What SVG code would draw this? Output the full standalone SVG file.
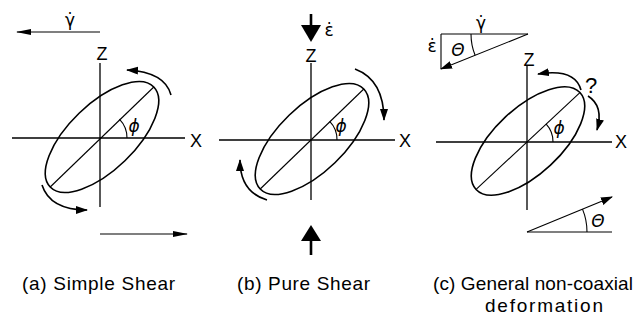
<svg xmlns="http://www.w3.org/2000/svg" width="636" height="320" viewBox="0 0 636 320">
<style>
.ax{stroke:#000;stroke-width:1.3;fill:none}
.el{stroke:#000;stroke-width:1.6;fill:none}
.ln{stroke:#000;stroke-width:1.1;fill:none}
.rot{stroke:#000;stroke-width:1.6;fill:none}
.lbl{font-family:"Liberation Sans",Arial,sans-serif;font-size:18px;fill:#000;text-anchor:middle}
.gr{font-family:"DejaVu Sans",sans-serif;font-size:17px;fill:#000;text-anchor:middle}
.it{font-family:"DejaVu Sans",sans-serif;font-style:italic;font-size:17px;fill:#000;text-anchor:middle}
.cap{font-family:"Liberation Sans",Arial,sans-serif;font-size:19px;fill:#000}
</style>
<defs>
<marker id="ah" markerUnits="userSpaceOnUse" markerWidth="14" markerHeight="10" refX="11" refY="4" orient="auto"><path d="M0,0 L12,4 L0,8 z" fill="#000"/></marker>
<marker id="ahs" markerUnits="userSpaceOnUse" markerWidth="16" markerHeight="8" refX="14" refY="3" orient="auto"><path d="M0,0 L15,3 L0,6 z" fill="#000"/></marker>
</defs>

<g id="panel-a">
  <path class="ax" d="M100,63 V207 M12,138 H185"/>
  <ellipse class="el" cx="102" cy="137" rx="72" ry="33" transform="rotate(-44 102 137)"/>
  <path class="ln" d="M50.2,187 L153.8,87"/>
  <path class="ln" d="M127,138 A27,27 0 0 0 119.4,119.2"/>
  <text class="lbl" x="102" y="60">Z</text>
  <text class="lbl" x="196" y="147">X</text>
  <text class="it" x="134" y="132">ϕ</text>
  <text class="gr" x="70" y="26">γ̇</text>
  <g id="conn-a">
    <path class="ln" d="M100,32 H17" marker-end="url(#ahs)"/>
    <path class="rot" d="M171,95 Q165,72 127,70" marker-end="url(#ah)"/>
    <path class="rot" d="M42,185 Q50,210 87,210" marker-end="url(#ah)"/>
    <path class="ln" d="M100,234 H187" marker-end="url(#ahs)"/>
  </g>
</g>

<g id="panel-b">
  <path class="ax" d="M311,63 V200 M219,140 H395"/>
  <ellipse class="el" cx="312" cy="139" rx="72" ry="33" transform="rotate(-44 312 139)"/>
  <path class="ln" d="M260.2,189 L363.8,89"/>
  <path class="ln" d="M337,140 A26,26 0 0 0 329.7,121.3"/>
  <text class="lbl" x="311" y="62">Z</text>
  <text class="lbl" x="405" y="147">X</text>
  <text class="it" x="341" y="132">ϕ</text>
  <text class="gr" x="329" y="36">ε̇</text>
  <g id="conn-b">
    <path d="M311,14 V27" stroke="#000" stroke-width="2.6"/>
    <polygon points="301,25 321,25 311,42" fill="#000"/>
    <path d="M311,240 V255" stroke="#000" stroke-width="2.6"/>
    <polygon points="301,241 321,241 311,225" fill="#000"/>
    <path class="rot" d="M355,69 Q384,80 384,120" marker-end="url(#ah)"/>
    <path class="rot" d="M267,200 Q240,192 240,160" marker-end="url(#ah)"/>
  </g>
</g>

<g id="panel-c">
  <path class="ax" d="M527,65 V210 M436,142 H612"/>
  <ellipse class="el" cx="528" cy="141" rx="71" ry="33" transform="rotate(-43 528 141)"/>
  <path class="ln" d="M476.1,189.4 L579.9,92.6"/>
  <path class="ln" d="M553,142 A26,26 0 0 0 546,123.8"/>
  <text class="lbl" x="529" y="66">Z</text>
  <text class="lbl" x="621" y="148">X</text>
  <text class="it" x="559" y="134">ϕ</text>
  <g id="triangle-top">
    <path class="ln" d="M441,34 H528 M441,34 V69"/>
    <path class="ln" d="M528,34 L441,69" marker-end="url(#ah)"/>
    <path class="ln" d="M471,34 A57,57 0 0 0 475.1,55.3"/>
    <text class="it" x="458" y="56">Θ</text>
    <text class="gr" x="481" y="29">γ̇</text>
    <text class="gr" x="432" y="52">ε̇</text>
  </g>
  <g id="conn-c">
    <path class="rot" d="M581,90 Q575,68 538,74" marker-end="url(#ah)"/>
    <path class="rot" d="M588,96 Q604,106 597,130" marker-end="url(#ah)"/>
  </g>
  <text x="591" y="93" style="font-family:'Liberation Sans',Arial,sans-serif;font-size:22px;text-anchor:middle">?</text>
  <g id="triangle-bottom">
    <path class="ln" d="M527,232 H612"/>
    <path class="ln" d="M527,232 L612,197" marker-end="url(#ah)"/>
    <path class="ln" d="M587,232 A60,60 0 0 0 582.5,209.1"/>
    <text class="it" x="598" y="227">Θ</text>
  </g>
</g>

<g id="captions">
  <text class="cap" x="22" y="290" textLength="153" lengthAdjust="spacing">(a) Simple Shear</text>
  <text class="cap" x="237" y="290" textLength="133" lengthAdjust="spacing">(b) Pure Shear</text>
  <text class="cap" x="433" y="290" textLength="200" lengthAdjust="spacing">(c) General non-coaxial</text>
  <text class="cap" x="485" y="312" textLength="118" lengthAdjust="spacing">deformation</text>
</g>
</svg>
